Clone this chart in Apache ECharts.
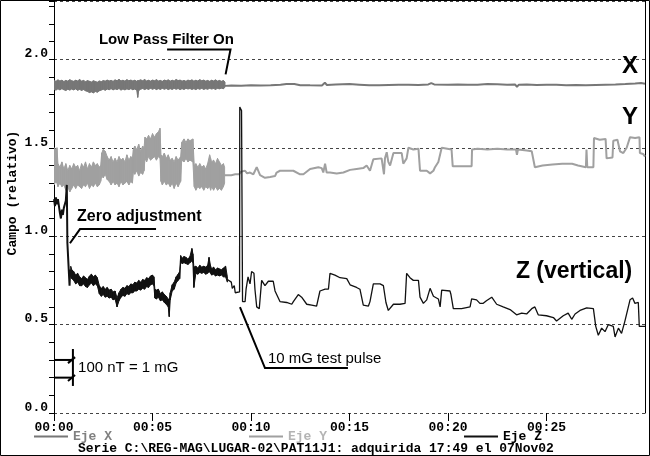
<!DOCTYPE html>
<html><head><meta charset="utf-8">
<script src="https://cdn.jsdelivr.net/npm/echarts@6/dist/echarts.min.js"></script>
<style>html,body{margin:0;padding:0;background:#fff}#c{width:650px;height:456px}</style>
</head><body><div id="c"></div>
<script>
// ---------- DATA (time in minutes, field in relative units) ----------
const yLabelsAt = [0, 0.5, 1.0, 1.5, 2.0];

// Eje X : noisy band before the low-pass filter  [t, low, high]
const xBand = [
[0.0,1.830,1.880],[0.1,1.826,1.876],[0.2,1.833,1.884],[0.3,1.827,1.878],[0.4,1.834,1.882],[0.5,1.828,1.875],
[0.6,1.824,1.881],[0.7,1.831,1.877],[0.8,1.826,1.885],[0.9,1.832,1.879],[1.0,1.827,1.876],[1.1,1.833,1.882],
[1.2,1.825,1.878],[1.3,1.830,1.886],[1.4,1.824,1.877],[1.5,1.829,1.881],[1.6,1.822,1.874],[1.7,1.818,1.880],
[1.8,1.812,1.876],[1.9,1.816,1.872],[2.0,1.810,1.879],[2.1,1.818,1.875],[2.2,1.814,1.871],[2.3,1.822,1.878],
[2.4,1.826,1.874],[2.5,1.831,1.880],[2.6,1.825,1.877],[2.7,1.832,1.883],[2.8,1.828,1.878],[2.9,1.834,1.881],
[3.0,1.827,1.876],[3.1,1.833,1.884],[3.2,1.829,1.879],[3.3,1.835,1.887],[3.4,1.826,1.878],[3.5,1.832,1.882],
[3.6,1.827,1.877],[3.7,1.833,1.885],[3.8,1.829,1.879],[3.9,1.834,1.883],[4.0,1.828,1.878],[4.1,1.832,1.882],
[4.2,1.826,1.876],[4.25,1.785,1.880],[4.3,1.824,1.880],[4.4,1.831,1.884],[4.5,1.835,1.879],[4.6,1.829,1.886],
[4.7,1.834,1.878],[4.8,1.830,1.882],[4.9,1.836,1.877],[5.0,1.831,1.883],[5.1,1.835,1.879],[5.2,1.829,1.885],
[5.3,1.834,1.878],[5.4,1.830,1.881],[5.5,1.836,1.876],[5.6,1.831,1.883],[5.7,1.835,1.879],[5.8,1.829,1.884],
[5.9,1.834,1.877],[6.0,1.830,1.882],[6.1,1.836,1.878],[6.2,1.831,1.886],[6.3,1.835,1.880],[6.4,1.829,1.883],
[6.5,1.834,1.877],[6.6,1.830,1.881],[6.7,1.836,1.876],[6.8,1.832,1.883],[6.9,1.835,1.879],[7.0,1.830,1.884],
[7.1,1.834,1.877],[7.2,1.829,1.882],[7.3,1.835,1.878],[7.4,1.831,1.885],[7.5,1.836,1.879],[7.6,1.830,1.883],
[7.7,1.834,1.877],[7.8,1.831,1.881],[7.9,1.836,1.876],[8.0,1.832,1.882],[8.1,1.835,1.878],[8.2,1.830,1.884],
[8.3,1.836,1.877],[8.4,1.833,1.881],[8.5,1.837,1.876],[8.6,1.834,1.880],[8.68,1.842,1.872]];
// Eje X : filtered
const xLineT = [8.68,9,9.5,10,10.5,11,11.5,11.8,12.2,12.5,13,13.6,13.75,13.85,14.3,15,15.5,16,16.5,17,17.5,18,18.5,19,19.15,19.3,20,20.5,21,21.5,22,22.5,23,23.4,23.5,23.6,24,24.5,25,25.5,26,26.5,27,27.5,28,28.5,29,29.5,29.8,30];
const xLineV = [1.850,1.852,1.851,1.853,1.852,1.853,1.856,1.861,1.860,1.854,1.853,1.852,1.868,1.855,1.858,1.860,1.857,1.854,1.853,1.855,1.856,1.857,1.855,1.858,1.866,1.858,1.857,1.858,1.856,1.857,1.860,1.859,1.857,1.858,1.845,1.857,1.858,1.855,1.857,1.856,1.854,1.855,1.853,1.855,1.857,1.858,1.860,1.863,1.866,1.862];

// Eje Y : noisy band  [t, low, high]
const yBand = [
[0.0,1.29,1.50],[0.1,1.31,1.49],[0.15,1.30,1.50],[0.2,1.28,1.41],[0.3,1.30,1.39],[0.4,1.28,1.42],[0.5,1.29,1.38],
[0.6,1.26,1.41],[0.7,1.28,1.37],[0.8,1.25,1.40],[0.9,1.27,1.38],[1.0,1.29,1.41],[1.1,1.27,1.39],[1.2,1.29,1.40],
[1.3,1.28,1.37],[1.4,1.27,1.41],[1.5,1.29,1.39],[1.6,1.28,1.42],[1.7,1.30,1.38],[1.8,1.27,1.41],[1.9,1.29,1.39],
[2.0,1.28,1.42],[2.1,1.30,1.40],[2.2,1.28,1.41],[2.3,1.29,1.39],[2.37,1.31,1.40],[2.42,1.34,1.47],[2.5,1.33,1.49],
[2.6,1.35,1.48],[2.7,1.32,1.45],[2.8,1.31,1.43],[2.9,1.29,1.45],[3.0,1.31,1.42],[3.1,1.29,1.44],[3.2,1.30,1.42],
[3.3,1.28,1.45],[3.4,1.31,1.43],[3.5,1.29,1.44],[3.6,1.30,1.42],[3.7,1.31,1.46],[3.8,1.29,1.43],[3.9,1.31,1.45],
[3.98,1.30,1.44],[4.03,1.36,1.49],[4.1,1.35,1.51],[4.2,1.37,1.49],[4.3,1.34,1.52],[4.4,1.36,1.48],[4.5,1.35,1.51],
[4.57,1.37,1.50],[4.62,1.44,1.56],[4.7,1.42,1.55],[4.8,1.45,1.57],[4.9,1.43,1.55],[5.0,1.44,1.58],[5.1,1.45,1.56],
[5.2,1.43,1.58],[5.3,1.45,1.59],[5.38,1.44,1.61],[5.43,1.31,1.46],[5.5,1.29,1.45],[5.6,1.31,1.47],[5.7,1.29,1.44],
[5.8,1.30,1.46],[5.9,1.28,1.43],[6.0,1.30,1.44],[6.1,1.27,1.42],[6.2,1.30,1.45],[6.3,1.28,1.43],[6.43,1.31,1.45],
[6.48,1.43,1.53],[6.6,1.42,1.55],[6.7,1.44,1.53],[6.8,1.42,1.55],[6.9,1.43,1.54],[7.05,1.42,1.55],[7.12,1.28,1.40],
[7.2,1.26,1.41],[7.3,1.28,1.39],[7.4,1.27,1.41],[7.5,1.28,1.39],[7.6,1.26,1.40],[7.7,1.28,1.38],[7.8,1.27,1.41],
[7.9,1.28,1.46],[7.95,1.26,1.44],[8.0,1.28,1.42],[8.1,1.26,1.43],[8.2,1.28,1.41],[8.3,1.26,1.44],[8.4,1.27,1.42],
[8.5,1.26,1.40],[8.6,1.28,1.41],[8.66,1.30,1.39]];
// Eje Y : filtered
const yLineT = [8.66,9.0,9.2,9.39,9.5,9.7,9.8,9.95,10.12,10.29,10.46,10.71,10.97,11.22,11.3,11.47,12.15,12.49,12.66,13.0,13.42,13.59,13.67,13.76,13.84,14.01,14.35,14.69,15.03,15.36,15.7,15.87,16.04,16.13,16.21,16.63,16.72,16.75,16.8,16.89,16.97,17.06,17.23,17.65,17.73,17.82,17.9,17.99,18.24,18.5,18.58,18.92,19.09,19.26,19.34,19.51,19.6,19.68,20.18,20.24,21.2,21.22,21.5,22.0,22.5,23.0,23.45,23.5,23.55,24.0,24.25,24.41,24.8,25.3,25.8,26.3,26.6,27.0,27.03,27.07,27.38,27.41,27.7,28.0,28.05,28.35,28.39,28.6,28.73,28.9,29.07,29.24,29.5,29.72,29.74,29.9,30.0];
const yLineV = [1.345,1.345,1.35,1.35,1.365,1.37,1.355,1.36,1.35,1.39,1.345,1.33,1.335,1.34,1.36,1.37,1.37,1.35,1.35,1.38,1.39,1.385,1.36,1.41,1.36,1.36,1.355,1.36,1.375,1.38,1.385,1.40,1.37,1.375,1.435,1.44,1.435,1.35,1.44,1.475,1.42,1.40,1.47,1.47,1.41,1.40,1.44,1.50,1.49,1.495,1.37,1.37,1.355,1.37,1.39,1.42,1.43,1.50,1.49,1.395,1.395,1.49,1.495,1.49,1.495,1.49,1.49,1.46,1.49,1.485,1.48,1.39,1.40,1.405,1.41,1.41,1.40,1.39,1.49,1.39,1.39,1.555,1.545,1.55,1.44,1.445,1.54,1.545,1.48,1.47,1.50,1.56,1.555,1.56,1.47,1.465,1.45];

// Eje Z : start (before zero adjustment)
const zStartT = [0,0.05,0.1,0.15,0.2,0.28,0.3,0.35,0.4,0.45,0.5,0.55,0.6,0.65,0.68,0.72,0.77,0.79,0.82,0.85];
const zStartV = [1.21,1.17,1.22,1.18,1.21,1.20,1.13,1.10,1.15,1.12,1.16,1.15,1.20,1.29,0.96,0.95,0.97,0.72,0.81,0.80];
// Eje Z : noisy band  [t, low, high]
const zBand = [
[0.85,0.77,0.83],[0.9,0.76,0.81],[1.0,0.75,0.80],[1.1,0.73,0.78],[1.2,0.74,0.79],[1.3,0.72,0.77],[1.4,0.72,0.76],
[1.5,0.73,0.775],[1.6,0.715,0.765],[1.7,0.71,0.755],[1.8,0.725,0.775],[1.9,0.735,0.785],[2.0,0.72,0.77],[2.1,0.73,0.78],
[2.2,0.72,0.765],[2.3,0.675,0.72],[2.4,0.66,0.705],[2.5,0.67,0.715],[2.6,0.655,0.70],[2.7,0.66,0.71],[2.8,0.65,0.695],
[2.9,0.655,0.70],[3.0,0.64,0.685],[3.1,0.645,0.69],[3.2,0.60,0.65],[3.3,0.635,0.68],[3.4,0.655,0.70],[3.5,0.665,0.71],
[3.6,0.66,0.705],[3.7,0.675,0.72],[3.8,0.67,0.715],[3.9,0.68,0.73],[4.0,0.68,0.725],[4.1,0.69,0.74],[4.2,0.69,0.735],
[4.3,0.70,0.75],[4.4,0.695,0.74],[4.5,0.705,0.755],[4.6,0.70,0.75],[4.7,0.715,0.765],[4.8,0.71,0.76],[4.9,0.725,0.775],
[5.0,0.73,0.78],[5.07,0.72,0.77],[5.12,0.65,0.70],[5.2,0.645,0.695],[5.3,0.655,0.70],[5.4,0.635,0.675],[5.5,0.64,0.685],
[5.6,0.625,0.67],[5.7,0.615,0.66],[5.8,0.60,0.645],[5.85,0.545,0.63],[5.9,0.64,0.68],[6.0,0.69,0.725],[6.1,0.70,0.74],
[6.2,0.735,0.77],[6.3,0.75,0.785],[6.38,0.76,0.80],[6.43,0.855,0.89],[6.5,0.845,0.875],[6.6,0.85,0.885],[6.7,0.845,0.88],
[6.8,0.84,0.87],[6.9,0.85,0.885],[7.0,0.86,0.93],[7.05,0.85,0.90],[7.1,0.71,0.825],[7.2,0.79,0.83],[7.3,0.785,0.82],
[7.4,0.795,0.835],[7.5,0.79,0.825],[7.6,0.795,0.83],[7.7,0.785,0.825],[7.8,0.79,0.835],[7.87,0.80,0.88],[7.95,0.79,0.83],
[8.0,0.78,0.815],[8.1,0.785,0.825],[8.2,0.775,0.81],[8.3,0.78,0.82],[8.4,0.775,0.815],[8.5,0.78,0.81],[8.6,0.77,0.82],
[8.71,0.77,0.83],[8.8,0.74,0.77]];
// Eje Z : after (incl. 10 mG test pulse)
const zLineT = [8.8,9.0,9.05,9.15,9.2,9.3,9.42,9.43,9.5,9.52,9.56,9.57,9.7,9.75,9.85,9.95,10.03,10.15,10.2,10.29,10.42,10.54,10.63,10.71,10.88,11.13,11.22,11.47,11.81,12.07,12.15,12.4,12.57,12.83,13.08,13.33,13.42,13.5,13.76,13.93,14.01,14.26,14.52,14.86,15.03,15.36,15.53,15.7,15.96,16.04,16.21,16.55,16.72,16.85,16.97,17.23,17.56,17.82,17.9,18.07,18.24,18.5,18.58,18.75,18.92,19.09,19.26,19.51,19.6,19.68,20.1,20.15,20.27,20.69,21.12,21.2,21.45,21.62,21.79,21.95,22.22,22.47,22.8,23.15,23.48,23.74,23.99,24.25,24.41,24.58,25.0,25.35,25.51,25.85,26.1,26.28,26.45,26.7,27.04,27.38,27.5,27.63,27.8,27.97,28.14,28.39,28.48,28.65,28.81,28.98,29.24,29.37,29.49,29.66,29.71,30.0];
const zLineV = [0.755,0.74,0.705,0.72,0.68,0.685,0.685,1.73,1.73,1.71,1.71,0.63,0.63,0.70,0.77,0.73,0.80,0.79,0.70,0.60,0.59,0.75,0.76,0.72,0.745,0.745,0.69,0.63,0.625,0.615,0.63,0.67,0.655,0.615,0.61,0.605,0.60,0.69,0.70,0.70,0.79,0.78,0.765,0.76,0.725,0.71,0.70,0.61,0.605,0.63,0.73,0.73,0.72,0.625,0.58,0.615,0.615,0.62,0.79,0.765,0.75,0.75,0.655,0.62,0.64,0.705,0.66,0.645,0.60,0.695,0.69,0.67,0.59,0.59,0.60,0.645,0.64,0.62,0.62,0.635,0.655,0.615,0.60,0.585,0.555,0.565,0.56,0.59,0.60,0.555,0.55,0.54,0.52,0.55,0.565,0.53,0.56,0.58,0.595,0.59,0.49,0.44,0.48,0.46,0.50,0.49,0.43,0.48,0.45,0.52,0.64,0.65,0.62,0.625,0.49,0.49];

const legendNames = ['Eje X', 'Eje Y', 'Eje Z'];
const subtitle = 'Serie C:\\REG-MAG\\LUGAR-02\\PAT11J1: adquirida 17:49 el 07Nov02';
const yName = 'Campo (relativo)';

// ---------- RENDER ----------
const MONO = '"Liberation Mono", "DejaVu Sans Mono", monospace';
const SANS = '"Liberation Sans", Arial, sans-serif';
const C_X = '#777777', C_Y = '#a0a0a0', C_Z = '#111111';
const pairs = (T, V) => T.map((t, i) => [t, V[i]]);

function band(name, rows, color) {
  return {
    type: 'custom', name, silent: true, animation: false, clip: true,
    data: rows,
    encode: { x: 0, y: [1, 2] },
    renderItem: (params, api) => {
      const i = params.dataIndexInside;
      if (i >= params.dataInsideLength - 1) return;
      const a = api.coord([api.value(0, i), api.value(2, i)]);
      const b = api.coord([api.value(0, i + 1), api.value(2, i + 1)]);
      const c = api.coord([api.value(0, i + 1), api.value(1, i + 1)]);
      const d = api.coord([api.value(0, i), api.value(1, i)]);
      return { type: 'polygon', shape: { points: [a, b, c, d] },
               style: { fill: color, stroke: color, lineWidth: 1 } };
    }
  };
}
function line(name, T, V, color, w) {
  return { type: 'line', name, data: pairs(T, V), symbol: 'none', showSymbol: false,
           lineStyle: { color, width: w }, itemStyle: { color }, animation: false, silent: true };
}

const chart = echarts.init(document.getElementById('c'));
chart.setOption({
  animation: false,
  grid: { left: 54, right: 5, top: 1, bottom: 43 },
  xAxis: {
    type: 'value', min: 0, max: 30, interval: 5,
    axisLine: { show: false, onZero: false },
    axisTick: { show: true, length: 8, lineStyle: { color: '#000' } },
    axisLabel: { formatter: v => '00:' + String(v).padStart(2, '0'), fontFamily: MONO, fontWeight: 'bold',
                 fontSize: 13, color: '#000', margin: 8, showMaxLabel: false },
    splitLine: { show: false }
  },
  yAxis: [{
    type: 'value', min: 0, max: 2.33, interval: 0.1,
    axisLine: { show: true, lineStyle: { color: '#000' } },
    axisTick: { show: true, length: 5, lineStyle: { color: '#000' } },
    axisLabel: {
      formatter: v => { const k = Math.round(v * 10); return yLabelsAt.some(l => Math.round(l * 10) === k) ? (k / 10).toFixed(1) : ''; },
      fontFamily: MONO, fontWeight: 'bold', fontSize: 13, color: '#000', margin: 6,
      verticalAlign: 'bottom', lineHeight: 11
    },
    splitLine: { show: false }
  }, {
    type: 'value', min: 0, max: 2.33, interval: 0.5, position: 'right',
    axisLine: { show: true, lineStyle: { color: '#000' } },
    axisTick: { show: false }, axisLabel: { show: false },
    splitLine: { show: true, lineStyle: { color: '#444', type: [3, 3], width: 1 } }
  }],
  legend: {
    data: [
      { name: legendNames[0], textStyle: { color: '#808080' } },
      { name: legendNames[1], textStyle: { color: '#b4b4b4' } },
      { name: legendNames[2], textStyle: { color: '#000' } }
    ],
    left: 29, top: 425, itemWidth: 34, itemHeight: 2, itemGap: 137, icon: 'rect', selectedMode: false,
    textStyle: { fontFamily: MONO, fontWeight: 'bold', fontSize: 13 }
  },
  series: [
    band('xb', xBand, C_X),
    line(legendNames[0], xLineT, xLineV, C_X, 2),
    band('yb', yBand, C_Y),
    line(legendNames[1], yLineT, yLineV, C_Y, 2),
    line(legendNames[2], zStartT, zStartV, C_Z, 2),
    band('zb', zBand, C_Z),
    line('z2', zLineT, zLineV, C_Z, 1.3)
  ]
});

// ---------- ANNOTATIONS (anchored in data units) ----------
const P = p => chart.convertToPixel({ gridIndex: 0 }, p);
const texts = [
  { at: [2.28, 2.113], text: 'Low Pass Filter On', font: 'bold 15px ' + SANS, align: 'left' },
  { at: [29.24, 1.96], text: 'X', font: 'bold 24px ' + SANS, align: 'center' },
  { at: [29.24, 1.672], text: 'Y', font: 'bold 24px ' + SANS, align: 'center' },
  { at: [1.17, 1.113], text: 'Zero adjustment', font: 'bold 16px ' + SANS, align: 'left' },
  { at: [26.4, 0.797], text: 'Z (vertical)', font: 'bold 23px ' + SANS, align: 'center' },
  { at: [10.86, 0.305], text: '10 mG test pulse', font: '15px ' + SANS, align: 'left' },
  { at: [1.22, 0.254], text: '100 nT = 1 mG', font: '15px ' + SANS, align: 'left' }
];
const leaders = [
  { pts: [[5.74, 2.056], [8.96, 2.056], [8.71, 1.915]], w: 2 },
  { pts: [[0.81, 0.96], [1.32, 1.04], [5.18, 1.04]], w: 2 },
  { pts: [[9.44, 0.599], [10.71, 0.254], [14.92, 0.254]], w: 2 },
  { pts: [[0.05, 0.3], [0.91, 0.3]], w: 2 },
  { pts: [[0.05, 0.2], [0.91, 0.2]], w: 2 },
  { pts: [[0.96, 0.362], [0.96, 0.153]], w: 2 },
  { pts: [[0.71, 0.282], [1.07, 0.316]], w: 2 },
  { pts: [[0.71, 0.181], [1.07, 0.215]], w: 2 }
];
const graphic = [];
leaders.forEach(l => graphic.push({ type: 'polyline', silent: true, z: 100,
  shape: { points: l.pts.map(P) }, style: { stroke: '#000', lineWidth: l.w, fill: null } }));
texts.forEach(t => { const p = P(t.at); graphic.push({ type: 'text', silent: true, z: 100, x: p[0], y: p[1],
  style: { text: t.text, font: t.font, fill: '#000', textAlign: t.align, textVerticalAlign: 'middle' } }); });
graphic.push({ type: 'text', silent: true, x: 13, y: 193, rotation: Math.PI / 2,
  style: { text: yName, font: 'bold 13px ' + MONO, fill: '#000', textAlign: 'center', textVerticalAlign: 'middle' } });
graphic.push({ type: 'text', silent: true, x: 78, y: 449,
  style: { text: subtitle, font: 'bold 13px ' + MONO, fill: '#000', textAlign: 'left', textVerticalAlign: 'middle' } });
graphic.push({ type: 'rect', silent: true, z: 200, shape: { x: 0.5, y: 0.5, width: 649, height: 455 },
  style: { fill: null, stroke: '#000', lineWidth: 1 } });
chart.setOption({ graphic });
</script>
</body></html>
